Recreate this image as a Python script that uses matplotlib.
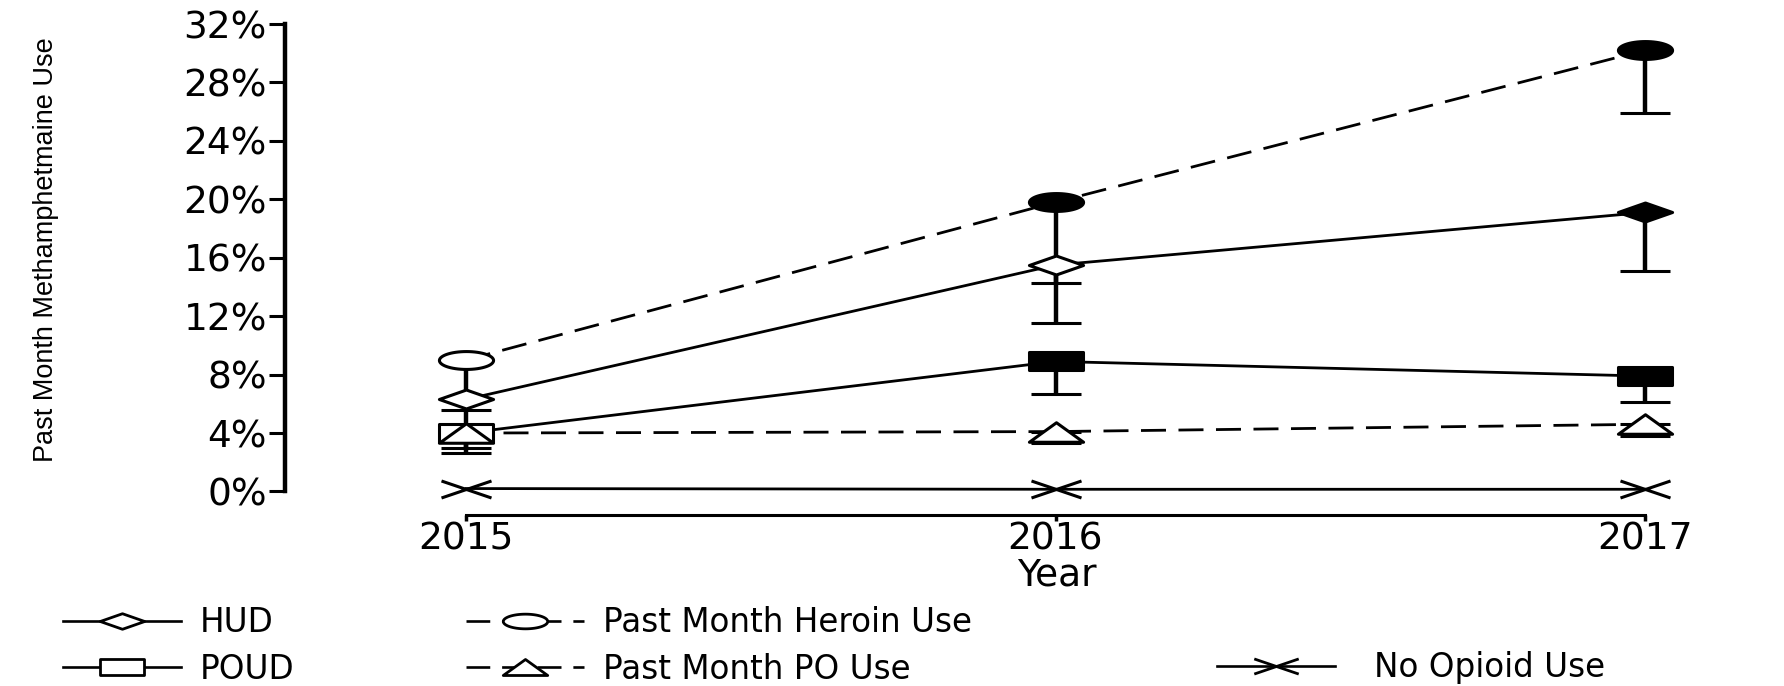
import numpy as np
import matplotlib.pyplot as plt
from matplotlib.path import Path
from matplotlib.lines import Line2D

# data (percent)
years = [2015, 2016, 2017]

hud = [6.3, 15.5, 19.1]
hud_low = [3.9, 11.5, 15.1]
hud_filled = [False, False, True]

heroin = [9.0, 19.8, 30.2]
heroin_low = [5.6, 14.3, 25.9]
heroin_filled = [False, True, True]

poud = [4.0, 8.9, 7.9]
poud_low = [2.6, 6.7, 6.1]
poud_filled = [False, True, True]

po = [4.0, 4.1, 4.6]
po_low = [3.0, 3.3, 3.8]
po_filled = [False, False, False]

no_opioid = [0.2, 0.15, 0.15]

y_ticks = [0, 4, 8, 12, 16, 20, 24, 28, 32]
legend_labels = ['HUD', 'POUD', 'Past Month Heroin Use', 'Past Month PO Use', 'No Opioid Use']


# wide, flat marker shapes
def ellipse_marker(a=0.33):
    t = np.linspace(0, 2 * np.pi, 61)
    return Path(np.column_stack([np.cos(t), a * np.sin(t)]), closed=True)

def diamond_marker(a=0.35):
    return Path([(1, 0), (0, a), (-1, 0), (0, -a), (1, 0)], closed=True)

def square_marker(a=0.35):
    return Path([(-1, -a), (1, -a), (1, a), (-1, a), (-1, -a)], closed=True)

def triangle_marker(a=0.36):
    return Path([(-1, -a), (1, -a), (0, a), (-1, -a)], closed=True)

def cross_marker(a=0.34):
    return Path([(-1, -a), (1, a), (-1, a), (1, -a)],
                [Path.MOVETO, Path.LINETO, Path.MOVETO, Path.LINETO])

DASH = (9, 4.5)

plt.rcParams['font.family'] = ['DejaVu Sans']

fig = plt.figure(figsize=(17.84, 6.86), dpi=100)
ax = fig.add_axes([285 / 1784, 1 - 515 / 686, 1415 / 1784, 491 / 686])

series = [
    (hud, hud_low, hud_filled, diamond_marker(), '-'),
    (heroin, heroin_low, heroin_filled, ellipse_marker(), '--'),
    (poud, poud_low, poud_filled, square_marker(), '-'),
    (po, po_low, po_filled, triangle_marker(), '--'),
]

for vals, low, filled, mk, ls in series:
    vals = np.array(vals)
    low = np.array(low)
    ax.errorbar(years, vals, yerr=[vals - low, np.zeros_like(vals)], fmt='none',
                ecolor='black', elinewidth=3.2, capsize=18, capthick=2.2, zorder=2)
    line, = ax.plot(years, vals, color='black', lw=2.0, ls=ls, zorder=2)
    if ls == '--':
        line.set_dashes(DASH)
    f = np.array(filled)
    x = np.array(years)
    ax.plot(x[~f], vals[~f], ls='none', marker=mk, ms=39, mfc='white', mec='black', mew=2.2,
            zorder=4, clip_on=False)
    ax.plot(x[f], vals[f], ls='none', marker=mk, ms=39, mfc='black', mec='black', mew=2.2,
            zorder=4, clip_on=False)

ax.plot(years, no_opioid, color='black', lw=2.0, marker=cross_marker(), ms=36,
        mfc='none', mec='black', mew=2.2, zorder=4, clip_on=False)

ax.set_xlim(2015 - 181 / 589.5, 2017 + 55 / 589.5)
ax.set_ylim(-23.5 / 14.59, 32)
ax.spines['top'].set_visible(False)
ax.spines['right'].set_visible(False)
ax.spines['left'].set_bounds(0, 32)
ax.spines['bottom'].set_bounds(2015, 2017)
ax.spines['left'].set_linewidth(3.2)
ax.spines['bottom'].set_linewidth(2.2)

ax.set_yticks(y_ticks)
ax.set_yticklabels([f'{v}%' for v in y_ticks])
ax.set_xticks(years)
ax.set_xticklabels([str(y) for y in years])
ax.tick_params(axis='y', length=11.5, width=2.2, pad=1.5, labelsize=27)
ax.tick_params(axis='x', length=4, width=2.5, pad=1, labelsize=27)

ax.set_ylabel('Past Month Methamphetmaine Use', fontsize=19.5,
              fontfamily=['Liberation Sans', 'DejaVu Sans'])
ax.yaxis.set_label_coords(-0.160, 0.54)
ax.set_xlabel('Year', fontsize=27)
ax.xaxis.set_label_coords((1057 - 285) / 1415, -43 / 491)


def handle(mk, ls):
    h = Line2D([], [], color='black', lw=1.9, ls=ls, marker=mk, ms=32,
               mfc='white', mec='black', mew=2.0)
    if ls == '--':
        h.set_dashes(DASH)
    return h

legend_kw = dict(frameon=False, fontsize=23.5, loc='center left', borderpad=0,
                 borderaxespad=0, handlelength=3.6, handletextpad=0.6, labelspacing=0.4)

fig.legend([handle(diamond_marker(), '-'), handle(square_marker(), '-')],
           legend_labels[0:2], bbox_to_anchor=(63 / 1784, 1 - 646 / 686), **legend_kw)
fig.legend([handle(ellipse_marker(), '--'), handle(triangle_marker(), '--')],
           legend_labels[2:4], bbox_to_anchor=(466 / 1784, 1 - 646 / 686), **legend_kw)
legend_kw['handletextpad'] = 1.2
fig.legend([handle(cross_marker(), '-')],
           legend_labels[4:5], bbox_to_anchor=(1217 / 1784, 1 - 668 / 686), **legend_kw)

fig.savefig('out.png', dpi=100)
